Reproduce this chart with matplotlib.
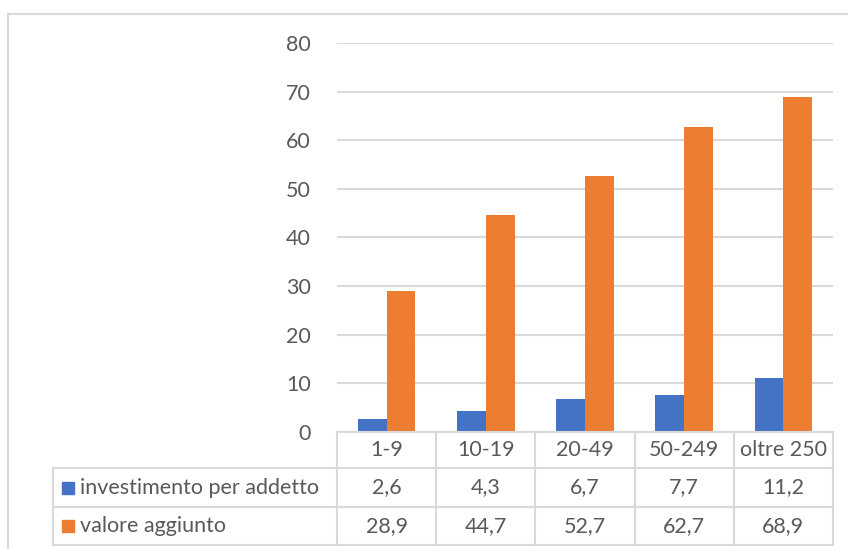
import matplotlib
matplotlib.use("Agg")
import matplotlib.pyplot as plt
from matplotlib.lines import Line2D
from matplotlib.patches import Rectangle
import matplotlib.transforms as mtransforms
import numpy as np

categories = ["1-9", "10-19", "20-49", "50-249", "oltre 250"]
series_names = ["investimento per addetto", "valore aggiunto"]
investimento = [2.6, 4.3, 6.7, 7.7, 11.2]
valore = [28.9, 44.7, 52.7, 62.7, 68.9]
yticks = [0, 10, 20, 30, 40, 50, 60, 70, 80]
colors = ["#4472C4", "#ED7D31"]
grid_c = "#D9D9D9"
text_c = "#595959"

plt.rcParams['font.family'] = ['Lato', 'DejaVu Sans']
FS = 15.5

W, H = 848, 549
fig = plt.figure(figsize=(W / 100, H / 100), dpi=100)

def fx(px):
    return px / W

def fy(py):
    return 1 - py / H

left, right, top, bottom = 337, 833, 43, 432
ax = fig.add_axes([fx(left), fy(bottom), fx(right) - fx(left), fy(top) - fy(bottom)])

x = np.arange(len(categories))
bw = 0.29
ax.bar(x - bw / 2, investimento, bw, color=colors[0], zorder=3)
ax.bar(x + bw / 2, valore, bw, color=colors[1], zorder=3)
ax.set_xlim(-0.5, len(categories) - 0.5)
ax.set_ylim(0, 80)
ax.set_yticks(yticks)
ax.set_yticklabels([str(t) for t in yticks], fontsize=FS, color=text_c)
ax.tick_params(axis='y', length=0, pad=19)
ax.set_xticks([])
ax.grid(axis='y', color=grid_c, linewidth=1.5, zorder=0)
for s in ax.spines.values():
    s.set_visible(False)

trans_x = mtransforms.blended_transform_factory(ax.transData, fig.transFigure)
row_lines = [432, 468, 507, 545]
tbl_left = 53

fig.add_artist(Line2D([fx(left), fx(right)], [fy(432), fy(432)], color=grid_c, lw=1.5))
for py in row_lines[1:]:
    fig.add_artist(Line2D([fx(tbl_left), fx(right)], [fy(py), fy(py)], color=grid_c, lw=1.5))
for b in np.arange(len(categories) + 1) - 0.5:
    ax.add_line(Line2D([b, b], [fy(432), fy(545)], transform=trans_x, color=grid_c, lw=1.5, clip_on=False))
fig.add_artist(Line2D([fx(tbl_left), fx(tbl_left)], [fy(468), fy(545)], color=grid_c, lw=1.5))

for i, c in enumerate(categories):
    ax.text(i, fy((432 + 468) / 2), c, transform=trans_x, ha='center', va='center',
            fontsize=FS, color=text_c, clip_on=False)

def fmt(v):
    return f"{v:.1f}".replace('.', ',')

for r, (name, vals) in enumerate(zip(series_names, [investimento, valore])):
    yc = (row_lines[r + 1] + row_lines[r + 2]) / 2
    fig.add_artist(Rectangle((fx(62), fy(yc + 6)), fx(12), 12 / H, color=colors[r],
                             transform=fig.transFigure))
    fig.text(fx(80), fy(yc), name, ha='left', va='center', fontsize=FS, color=text_c)
    for i, v in enumerate(vals):
        ax.text(i, fy(yc), fmt(v), transform=trans_x, ha='center', va='center',
                fontsize=FS, color=text_c, clip_on=False)

fig.add_artist(Line2D([fx(8), 1], [fy(14), fy(14)], color=grid_c, lw=1.5))
fig.add_artist(Line2D([fx(8), fx(8)], [fy(14), 0], color=grid_c, lw=1.5))

fig.savefig("out.png", dpi=100)
